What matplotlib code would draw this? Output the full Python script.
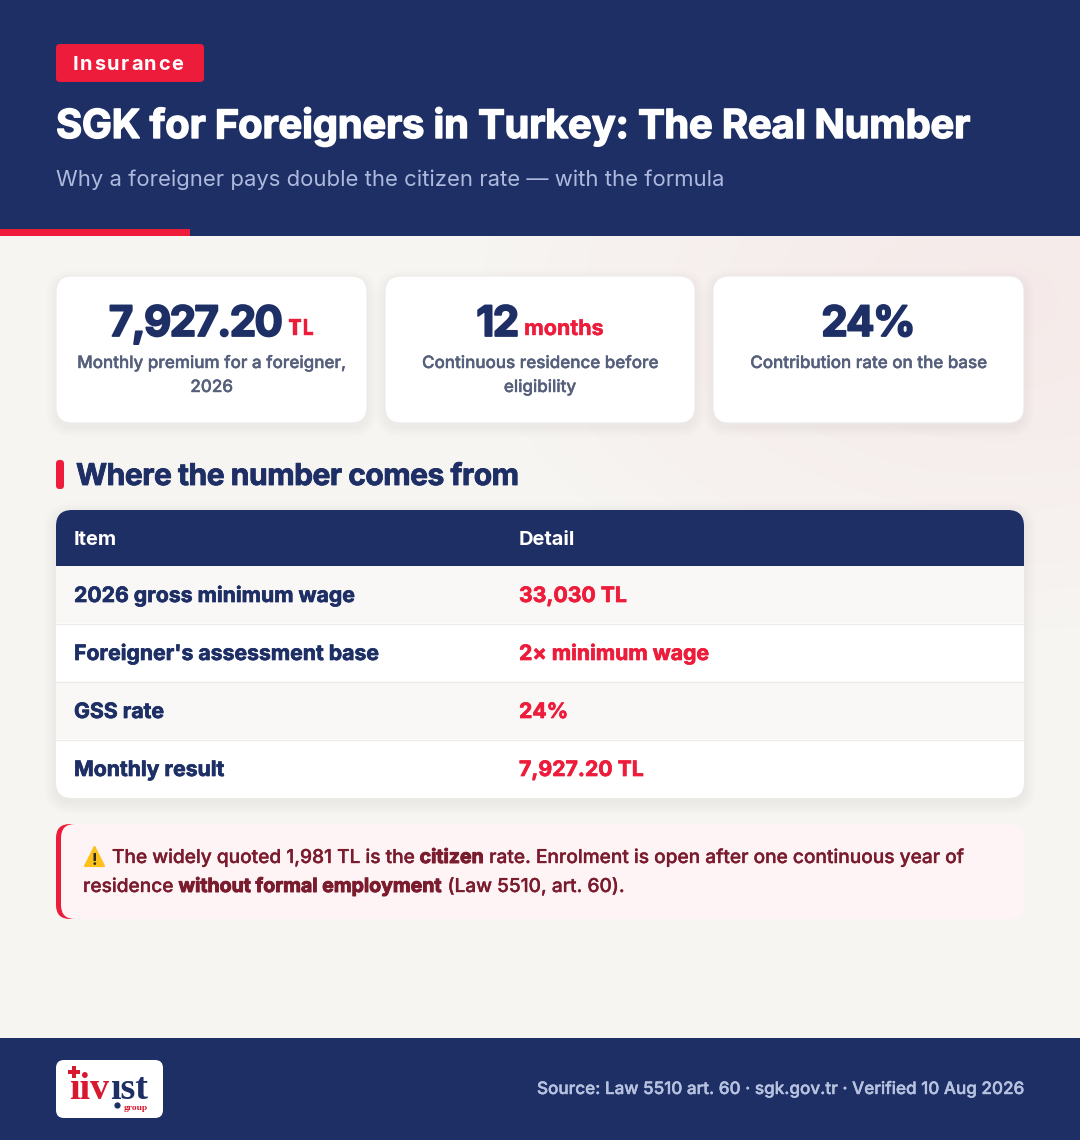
import matplotlib
matplotlib.use('Agg')
import matplotlib.pyplot as plt
from matplotlib.patches import FancyBboxPatch, Rectangle, Polygon
import matplotlib.patheffects as pe
import numpy as np

# Text content
tag = 'Insurance'
title = 'SGK for Foreigners in Turkey: The Real Number'
subtitle = 'Why a foreigner pays double the citizen rate — with the formula'
kpi_values = ['7,927.20', '12', '24%']
kpi_units = ['TL', 'months', '']
kpi_labels = [['Monthly premium for a foreigner,', '2026'],
              ['Continuous residence before', 'eligibility'],
              ['Contribution rate on the base']]
section = 'Where the number comes from'
col_names = ['Item', 'Detail']
items = ['2026 gross minimum wage', "Foreigner's assessment base", 'GSS rate', 'Monthly result']
details = ['33,030 TL', '2× minimum wage', '24%', '7,927.20 TL']
note_line1 = [('The widely quoted 1,981 TL is the ', False), ('citizen', True),
              (' rate. Enrolment is open after one continuous year of', False)]
note_line2 = [('residence ', False), ('without formal employment', True), (' (Law 5510, art. 60).', False)]
source = 'Source: Law 5510 art. 60 · sgk.gov.tr · Verified 10 Aug 2026'

NAVY = '#1e2f66'
RED = '#ee1c3b'
GREY = '#56607c'
WINE = '#7a1c2e'

plt.rcParams['font.family'] = ['Inter', 'DejaVu Sans']

fig = plt.figure(figsize=(10.8, 11.4), dpi=100)
ax = fig.add_axes([0, 0, 1, 1])
ax.set_xlim(0, 1080)
ax.set_ylim(1140, 0)
ax.axis('off')


def txt(x, y, s, px, color, weight='normal', ha='left', stroke=0, **kw):
    t = ax.text(x, y, s, fontsize=px * 0.72, color=color, fontweight=weight,
                ha=ha, va='baseline', **kw)
    if stroke:
        # heavier look than the font's own bold
        t.set_path_effects([pe.withStroke(linewidth=stroke, foreground=color)])
    return t


def width(t):
    return t.get_window_extent(fig.canvas.get_renderer()).width


def measure(s, px, weight):
    t = ax.text(0, 0, s.replace(' ', '\u00a0'), fontsize=px * 0.72, fontweight=weight)
    w = width(t)
    t.remove()
    return w


def spaced_width(s, px, weight, ls):
    return measure(s, px, weight) + ls * (len(s) - 1)


def spaced(x, y, s, px, color, weight='bold', ls=0.0, stroke=0, zorder=3):
    # letter spacing: one text per character, placed from the width of the prefix
    for i, ch in enumerate(s):
        if ch == ' ':
            continue
        off = measure(s[:i + 1], px, weight) - measure(ch, px, weight) if i else 0
        txt(x + off + ls * i, y, ch, px, color, weight, stroke=stroke, zorder=zorder)


def rbox(x, y, w, h, r, color, z=1, alpha=1.0, ec='none', lw=0):
    p = FancyBboxPatch((x + r, y + r), w - 2 * r, h - 2 * r, boxstyle=f'round,pad={r},rounding_size={r}',
                       fc=color, ec=ec, lw=lw, alpha=alpha, zorder=z, mutation_aspect=1)
    ax.add_patch(p)
    return p


def shadow(x, y, w, h, r, dy=4, spread=10, strength=0.002):
    for i in range(spread, 0, -1):
        rbox(x - i, y - i + dy, w + 2 * i, h + 2 * i, r + i, NAVY, z=1.5, alpha=strength)


def runs(x, y, parts, px, color):
    for s, bold in parts:
        t = txt(x, y, s.replace(' ', '\u00a0'), px + 0.4 if bold else px, color, 'bold' if bold else 'medium',
                stroke=0.7 if bold else 0.25, zorder=3)
        x += width(t)


# page background with faint pink glow at upper right
yy, xx = np.mgrid[236:1038, 0:1080]
d = np.sqrt(((xx - 1000) / 520.0) ** 2 + ((yy - 300) / 330.0) ** 2)
glow = np.clip(1 - d, 0, 1)[..., None] ** 0.8
base = np.array([0xf7, 0xf5, 0xf2]) / 255
pink = np.array([0xf5, 0xea, 0xe9]) / 255
ax.imshow(base * (1 - glow) + pink * glow, extent=(0, 1080, 1038, 236), zorder=0, aspect='auto')
ax.set_xlim(0, 1080)
ax.set_ylim(1140, 0)

# header
ax.add_patch(Rectangle((0, 0), 1080, 236, fc=NAVY, ec='none', zorder=1))
ax.add_patch(Rectangle((0, 229), 190, 7, fc=RED, ec='none', zorder=2))
rbox(56, 44, 148, 38, 4, RED, z=2)
spaced(73, 70, tag, 20, 'white', 'bold', ls=1.6)
spaced(56, 138, title, 40, 'white', 'bold', ls=-0.24, stroke=1.0)
txt(56, 186, subtitle, 22.07, '#aebadd', 'normal', zorder=3)

# KPI cards
card_x = [56, 385, 713]
card_w = [311, 310, 311]
for cx, cw, val, unit, lab in zip(card_x, card_w, kpi_values, kpi_units, kpi_labels):
    shadow(cx, 276, cw, 147, 16)
    rbox(cx, 276, cw, 147, 16, 'white', z=2, ec='#ecebea', lw=0.8)
    mid = cx + cw / 2
    w1 = spaced_width(val, 42, 'bold', -1.6)
    if unit:
        t2 = txt(0, 335, unit, 21.5, RED, 'bold', stroke=0.3, zorder=3)
        w2 = width(t2)
        start = mid - (w1 + 5 + w2) / 2
        spaced(start, 336, val, 42, NAVY, 'bold', ls=-1.6, stroke=1.3)
        t2.set_x(start + w1 + 5)
    else:
        spaced(mid - w1 / 2, 336, val, 42, NAVY, 'bold', ls=-1.6, stroke=1.3)
    for i, line in enumerate(lab):
        txt(mid, 368 + 24 * i, line, 17, GREY, 'medium', ha='center', stroke=0.3, zorder=3)

# section heading
rbox(56, 460, 8, 29, 3.5, RED, z=2)
spaced(76, 485, section, 30, NAVY, 'bold', ls=-0.5, stroke=0.6)

# table
shadow(56, 510, 968, 288, 16, spread=12)
rbox(56, 510, 968, 288, 16, 'white', z=2)
rbox(56, 510, 968, 40, 16, NAVY, z=2.1)
ax.add_patch(Rectangle((56, 530), 968, 36, fc=NAVY, ec='none', zorder=2.1))
txt(74, 545, col_names[0], 20, 'white', 'bold', zorder=3)
txt(519, 545, col_names[1], 20, 'white', 'bold', zorder=3)
row_h = 58
for i, (item, det) in enumerate(zip(items, details)):
    top = 566 + i * row_h
    if i % 2 == 0:
        ax.add_patch(Rectangle((56, top), 968, row_h - 1, fc='#f9f8f6', ec='none', zorder=2.2))
    if i < len(items) - 1:
        ax.plot([56, 1024], [top + row_h - 0.5] * 2, color='#ecebe9', lw=1, zorder=2.3)
    txt(74, top + 36, item, 21.2, NAVY, 'bold', stroke=0.5, zorder=3)
    txt(519, top + 36, det, 21.2, RED, 'bold', stroke=0.5, zorder=3)

# note box
rbox(56, 824, 60, 95, 14, RED, z=2)
rbox(61, 824, 963, 95, 14, '#fef4f5', z=2.1)
ax.add_patch(Polygon([[94.5, 847], [85, 866], [104, 866]], closed=True, fc='#fcc21b', ec='#fcc21b',
                     lw=1.5, joinstyle='round', zorder=3))
ax.text(94.5, 865, '!', fontsize=12, color='#2b2b2b', fontweight='bold', ha='center', va='baseline', zorder=4)
runs(112, 863, note_line1, 19.1, WINE)
runs(83, 892, note_line2, 19.1, WINE)

# footer
ax.add_patch(Rectangle((0, 1038), 1080, 102, fc=NAVY, ec='none', zorder=1))
rbox(56, 1060, 107, 58, 8, 'white', z=2)
txt(69, 1099, 'ıiv', 38, '#d7192f', 'bold', family='Liberation Serif', zorder=3)
txt(110, 1099, 'ıst', 38, NAVY, 'bold', family='Liberation Serif', zorder=3)
ax.plot([74], [1072], marker='P', ms=8, color='#d7192f', mew=0, zorder=3)
ax.plot([117], [1105], marker='o', ms=4.5, color=NAVY, mew=0, zorder=3)
txt(124, 1110, 'group', 9.5, '#d7192f', 'bold', family='Liberation Serif', zorder=3)
txt(1024, 1094, source, 17.1, '#b7c2e0', 'medium', ha='right', stroke=0.3, zorder=3)

fig.savefig('out.png', dpi=100)
